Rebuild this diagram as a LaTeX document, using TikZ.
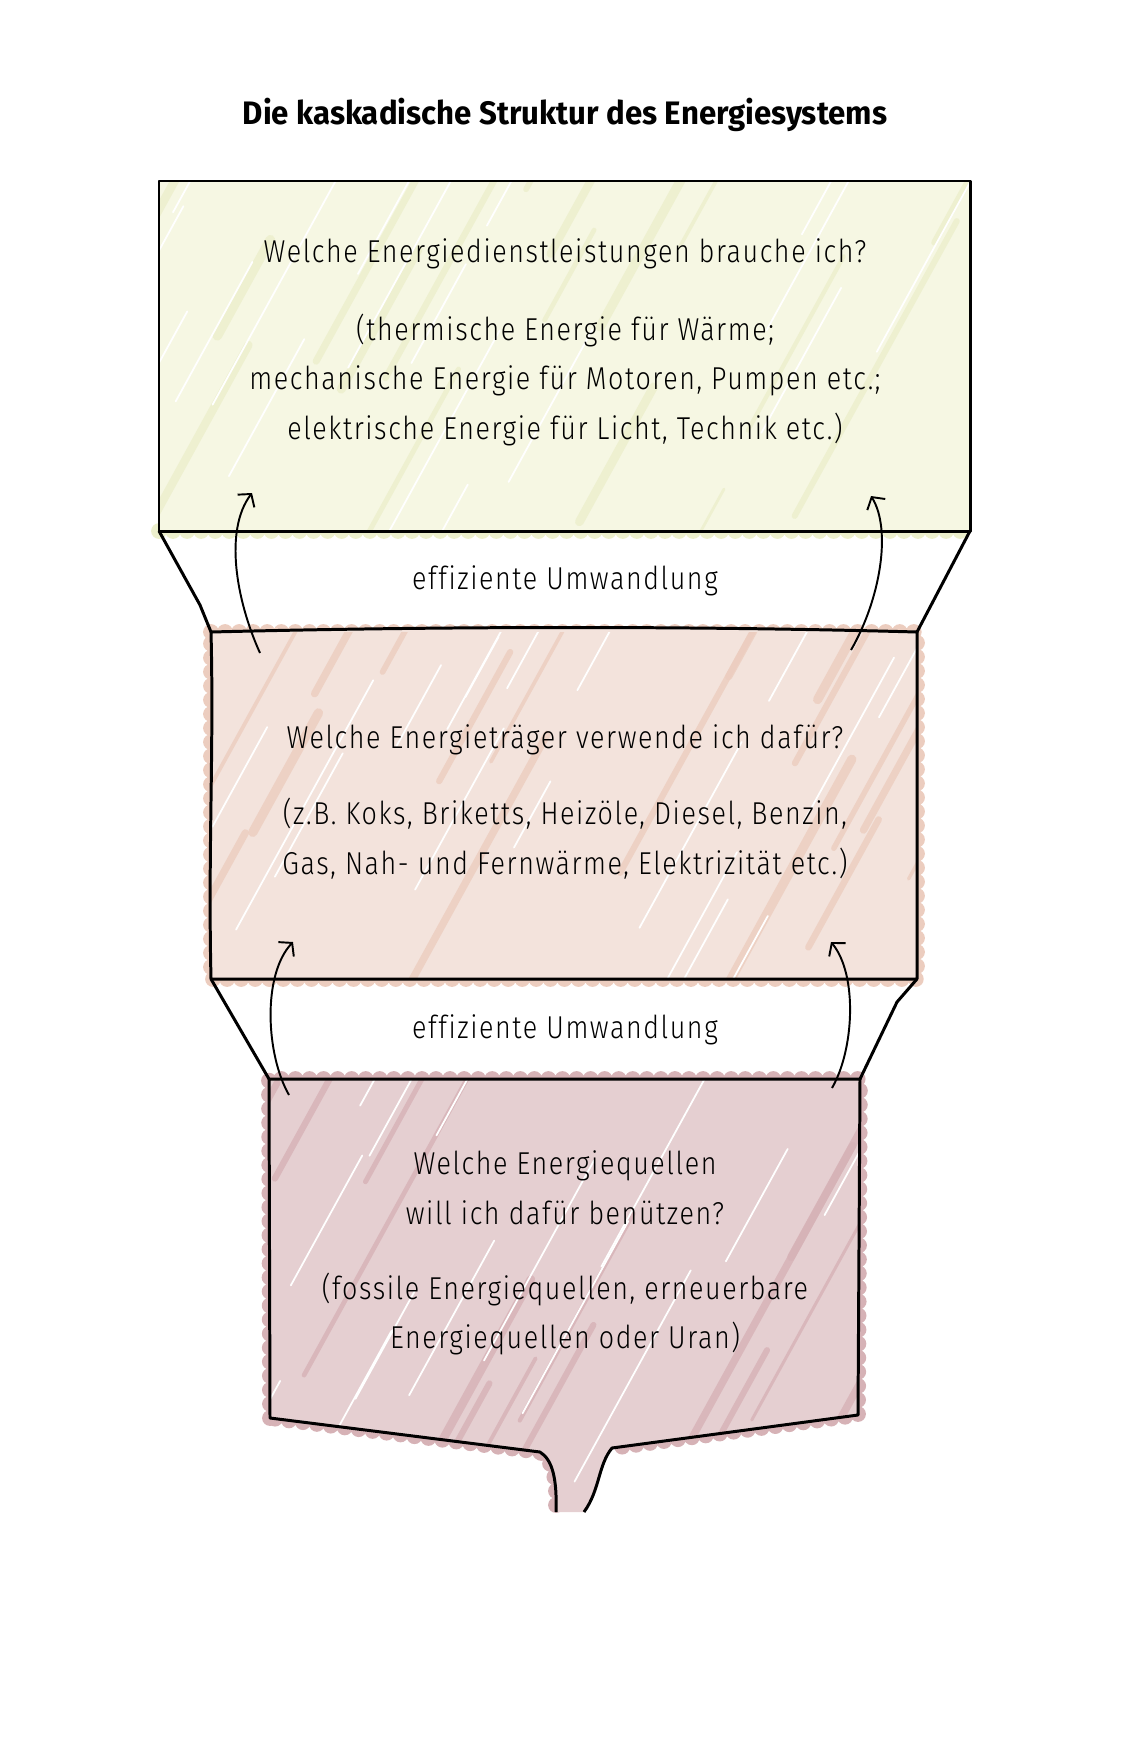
\documentclass[tikz,border=0pt]{standalone}
\usepackage{fontspec}
\setmainfont{Fira Sans Light}[FakeStretch=0.85, LetterSpace=5, Ligatures=NoCommon]
\newfontfamily\titlefont{Fira Sans}[FakeStretch=0.96]
\usetikzlibrary{arrows.meta}
\definecolor{ServiceFill}{HTML}{F6F7E3}
\definecolor{ServiceHatch}{HTML}{ECEFCC}
\definecolor{CarrierFill}{HTML}{F3E3DC}
\definecolor{CarrierHatch}{HTML}{ECCDBF}
\definecolor{SourceFill}{HTML}{E5CFD1}
\definecolor{SourceHatch}{HTML}{D6B2B6}

% diagonal pencil strokes: colour, x1, y1, x2, y2
\newcommand{\hatchbox}[5]{%
  \foreach \k in {1,...,22}{
    \pgfmathsetmacro{\hx}{#2-180+rnd*(#4-#2+180)}
    \pgfmathsetmacro{\hy}{#3+rnd*(#5-#3+120)}
    \pgfmathsetmacro{\hl}{80+rnd*240}
    \pgfmathsetmacro{\hw}{1.5+rnd*4}
    \draw[#1, line width=\hw pt, line cap=round, opacity=0.8] (\hx,\hy) -- ++(0.55*\hl,-\hl);
  }
  \foreach \k in {1,...,20}{
    \pgfmathsetmacro{\hx}{#2-180+rnd*(#4-#2+180)}
    \pgfmathsetmacro{\hy}{#3+rnd*(#5-#3+120)}
    \pgfmathsetmacro{\hl}{60+rnd*200}
    \draw[white, line width=1pt, line cap=round] (\hx,\hy) -- ++(0.55*\hl,-\hl);
  }
}

\begin{document}
\begin{tikzpicture}[x=0.02cm, y=-0.02cm,
    outline/.style={draw=black, line width=1.7pt, line join=round},
    fuzz/.style={line width=9pt, dash pattern=on 0pt off 8pt, line cap=round},
    question/.style={font=\fontsize{18}{28.3}\selectfont, align=center, inner sep=0pt},
    convarrow/.style={draw=black, line width=1.1pt, -{Straight Barb[length=5pt, width=12pt]}}]
  \useasboundingbox (0,0) rectangle (1134,1748);
  \pgfmathsetseed{42}

  % energy services
  \draw[ServiceHatch, fuzz] (159,531) -- (970,531);
  \fill[ServiceFill] (159,181) rectangle (970,531);
  \begin{scope}
    \clip (159,181) rectangle (970,531);
    \hatchbox{ServiceHatch}{159}{181}{970}{531}
  \end{scope}
  \draw[outline] (159,181) rectangle (970,531);

  % energy carriers
  \draw[CarrierHatch, fuzz] (211,632) -- (917,632) -- (917,979) -- (211,979) -- cycle;
  \fill[CarrierFill] (211,632) .. controls (450,626) and (700,626) .. (917,632)
    -- (917,979) -- (211,979) .. controls (208,850) and (214,750) .. cycle;
  \begin{scope}
    \clip (211,632) -- (917,632) -- (917,979) -- (211,979) -- cycle;
    \hatchbox{CarrierHatch}{211}{632}{917}{979}
  \end{scope}
  \draw[outline] (211,632) .. controls (450,626) and (700,626) .. (917,632)
    -- (917,979) -- (211,979) .. controls (208,850) and (214,750) .. cycle;

  % energy sources
  \draw[SourceHatch, fuzz] (270,1418) -- (269,1079) -- (860,1079) -- (858,1415) -- (612,1448);
  \draw[SourceHatch, fuzz] (540,1452) -- (270,1418);
  \draw[SourceHatch, fuzz] (556,1505) .. controls (557,1480) and (553,1460) .. (540,1452);
  \fill[SourceFill] (556,1512) .. controls (557,1480) and (553,1460) .. (540,1452)
    -- (270,1418) -- (269,1079) -- (860,1079) -- (858,1415) -- (612,1448)
    .. controls (598,1465) and (600,1490) .. (584,1512) -- cycle;
  \begin{scope}
    \clip (556,1512) .. controls (557,1480) and (553,1460) .. (540,1452)
      -- (270,1418) -- (269,1079) -- (860,1079) -- (858,1415) -- (612,1448)
      .. controls (598,1465) and (600,1490) .. (584,1512) -- cycle;
    \hatchbox{SourceHatch}{269}{1079}{860}{1512}
  \end{scope}
  \draw[outline] (556,1512) .. controls (557,1480) and (553,1460) .. (540,1452)
    -- (270,1418) -- (269,1079) -- (860,1079) -- (858,1415) -- (612,1448)
    .. controls (598,1465) and (600,1490) .. (584,1512);

  % funnel sides
  \draw[outline] (159,531) -- (200,605) -- (211,632);
  \draw[outline] (970,531) -- (917,632);
  \draw[outline] (211,979) -- (269,1079);
  \draw[outline] (917,979) -- (897,1002) -- (860,1079);

  % texts
  \node[font=\titlefont\bfseries\fontsize{18.5}{22}\selectfont] (title) at (565,115)
    {Die kaskadische Struktur des Energiesystems};
  \node[question] (q1) at (565,254) {Welche Energiedienstleistungen brauche ich?};
  \node[question] (d1) at (565,380) {(thermische Energie für Wärme;\\
    mechanische Energie für Motoren, Pumpen etc.;\\
    elektrische Energie für Licht, Technik etc.)};
  \node[question] (conv1) at (565,581) {effiziente Umwandlung};
  \node[question] (q2) at (565,740) {Welche Energieträger verwende ich dafür?};
  \node[question] (d2) at (565,839) {(z.B. Koks, Briketts, Heizöle, Diesel, Benzin,\\
    Gas, Nah- und Fernwärme, Elektrizität etc.)};
  \node[question] (conv2) at (565,1030) {effiziente Umwandlung};
  \node[question] (q3) at (565,1188) {Welche Energiequellen\\ will ich dafür benützen?};
  \node[question] (d3) at (565,1314) {(fossile Energiequellen, erneuerbare\\
    Energiequellen oder Uran)};

  % conversion arrows
  \coordinate (up1l) at (260,653);  \coordinate (up1lend) at (252,493);
  \coordinate (up1r) at (851,650);  \coordinate (up1rend) at (871,496);
  \coordinate (up2l) at (289,1095); \coordinate (up2lend) at (293,942);
  \coordinate (up2r) at (832,1088); \coordinate (up2rend) at (831,942);
  \draw[convarrow] (up1l) .. controls (236,600) and (224,530) .. (up1lend);
  \draw[convarrow] (up1r) .. controls (880,600) and (892,530) .. (up1rend);
  \draw[convarrow] (up2l) .. controls (266,1055) and (262,975) .. (up2lend);
  \draw[convarrow] (up2r) .. controls (854,1050) and (858,975) .. (up2rend);
\end{tikzpicture}
\end{document}
